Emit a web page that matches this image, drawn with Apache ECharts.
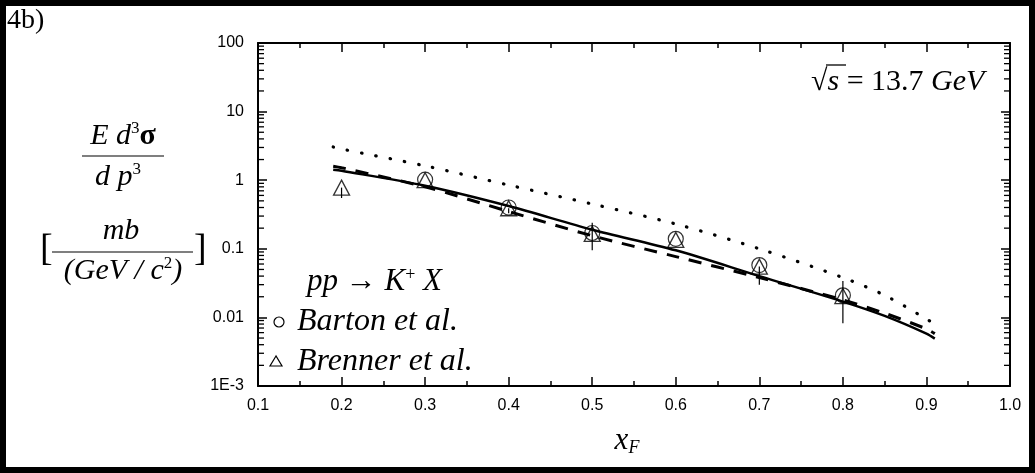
<!DOCTYPE html>
<html>
<head>
<meta charset="utf-8">
<script src="https://cdn.jsdelivr.net/npm/echarts@6/dist/echarts.min.js"></script>
<style>
html,body{margin:0;padding:0;background:#fff;}
#c{width:1035px;height:473px;}
</style>
</head>
<body>
<div id="c"></div>
<script>
// ---- data ----
var xTicks = [0.1,0.2,0.3,0.4,0.5,0.6,0.7,0.8,0.9,1.0];
var yTickLabels = {'-3':'1E-3','-2':'0.01','-1':'0.1','0':'1','1':'10','2':'100'};
var xTheory = [0.19, 0.2, 0.3, 0.4, 0.5, 0.6, 0.7, 0.8, 0.85, 0.9, 0.91];
var solidY  = [1.42, 1.37, 0.83, 0.42, 0.19, 0.095, 0.040, 0.017, 0.0105, 0.0058, 0.0049];
var dashedY = [1.60, 1.52, 0.80, 0.35, 0.155, 0.077, 0.038, 0.018, 0.0115, 0.0068, 0.0058];
var dottedY = [3.05, 2.85, 1.62, 0.85, 0.45, 0.23, 0.10, 0.038, 0.021, 0.0095, 0.0079];
var brennerX = [0.2, 0.3, 0.4, 0.5, 0.6, 0.7, 0.8];
var brennerY = [0.78, 1.0, 0.39, 0.165, 0.135, 0.055, 0.0205];
var bartonX = [0.3, 0.4, 0.5, 0.6, 0.7, 0.8];
var bartonY = [1.02, 0.40, 0.17, 0.14, 0.058, 0.021];
var errX    = [0.2, 0.4, 0.5, 0.7, 0.8];
var errLow  = [0.55, 0.33, 0.095, 0.030, 0.0082];
var errHigh = [0.78, 0.39, 0.24, 0.055, 0.034];
var yMinor = [];
[0.001,0.01,0.1,1,10].forEach(function(d){ for(var k=2;k<=9;k++) yMinor.push(d*k); });

function zip(a,b){ return a.map(function(v,i){ return [v,b[i]]; }); }

var chart = echarts.init(document.getElementById('c'), null, {renderer:'canvas'});
var sans = 'Liberation Sans';
var SF = '"Liberation Serif"';

var option = {
  backgroundColor:'#fff',
  animation:false,
  grid:{left:258, top:43, width:752, height:343},
  xAxis:[{
    type:'value', min:0.1, max:1.0, interval:0.1, position:'bottom',
    axisLine:{lineStyle:{color:'#000', width:2}},
    axisTick:{inside:true, length:9, lineStyle:{color:'#000', width:1.5}},
    minorTick:{show:true, splitNumber:2, length:5, lineStyle:{color:'#000', width:1.5}},
    splitLine:{show:false},
    axisLabel:{color:'#000', fontFamily:sans, fontSize:16, margin:12,
      formatter:function(v){ return v.toFixed(1); }}
  },{
    type:'value', min:0.1, max:1.0, interval:0.1, position:'top',
    axisLine:{show:true, lineStyle:{color:'#000', width:2}},
    axisTick:{show:true, inside:true, length:9, lineStyle:{color:'#000', width:1.5}},
    minorTick:{show:true, splitNumber:2, length:5, lineStyle:{color:'#000', width:1.5}},
    splitLine:{show:false}, axisLabel:{show:false}
  }],
  yAxis:[{
    type:'log', logBase:10, min:0.001, max:100, position:'left',
    axisLine:{show:true, lineStyle:{color:'#000', width:2}},
    axisTick:{show:true, inside:true, length:9, lineStyle:{color:'#000', width:1.5}},
    splitLine:{show:false},
    axisLabel:{color:'#000', fontFamily:sans, fontSize:16, margin:14,
      formatter:function(v){ var e=Math.round(Math.log10(v)); return yTickLabels[String(e)]; }}
  },{
    type:'log', logBase:10, min:0.001, max:100, position:'right',
    axisLine:{show:true, lineStyle:{color:'#000', width:2}},
    axisTick:{show:true, inside:true, length:9, lineStyle:{color:'#000', width:1.5}},
    splitLine:{show:false}, axisLabel:{show:false}
  }],
  series:[
    {type:'custom', name:'minorTicks', xAxisIndex:0, yAxisIndex:0, silent:true, clip:false,
     data:yMinor.map(function(v){return [0.1,v];}),
     renderItem:function(params, api){
       var v = api.value(1);
       var p = api.coord([0.1, v]);
       var q = api.coord([1.0, v]);
       var st = {stroke:'#000', lineWidth:1.3};
       return {type:'group', children:[
         {type:'line', shape:{x1:p[0], y1:p[1], x2:p[0]+6, y2:p[1]}, style:st},
         {type:'line', shape:{x1:q[0], y1:q[1], x2:q[0]-6, y2:q[1]}, style:st}
       ]};
     }},
    {type:'line', name:'dotted', data:zip(xTheory, dottedY), showSymbol:false, smooth:0.3,
     lineStyle:{color:'#000', width:3.2, type:[0.5,14], cap:'round'}},
    {type:'line', name:'dashed', data:zip(xTheory, dashedY), showSymbol:false, smooth:0.3,
     lineStyle:{color:'#000', width:3, type:[13,10]}},
    {type:'line', name:'solid', data:zip(xTheory, solidY), showSymbol:false, smooth:0.3,
     lineStyle:{color:'#000', width:2.5}},
    {type:'custom', name:'errors', silent:true,
     data:errX.map(function(x,i){ return [x, errLow[i], errHigh[i]]; }),
     renderItem:function(params, api){
       var a = api.coord([api.value(0), api.value(1)]);
       var b = api.coord([api.value(0), api.value(2)]);
       return {type:'line', shape:{x1:a[0], y1:a[1], x2:b[0], y2:b[1]}, style:{stroke:'#000', lineWidth:1.2}};
     }},
    {type:'scatter', name:'Barton et al.', data:zip(bartonX, bartonY), symbol:'circle', symbolSize:15,
     itemStyle:{color:'rgba(0,0,0,0)', borderColor:'#000', borderWidth:1.2}},
    {type:'scatter', name:'Brenner et al.', data:zip(brennerX, brennerY), symbol:'triangle', symbolSize:[16,15],
     itemStyle:{color:'rgba(0,0,0,0)', borderColor:'#000', borderWidth:1.3}}
  ],
  graphic:[
    {type:'rect', shape:{x:3, y:3, width:1029, height:467}, style:{fill:'none', stroke:'#000', lineWidth:6}, z:100},
    {type:'text', x:7, y:21, style:{text:'4b)', verticalAlign:'middle', font:'28px '+SF, fill:'#000'}},
    // y title
    {type:'text', x:123, y:136, style:{text:'{i|E d}{s|3}{g|σ}', align:'center', verticalAlign:'middle',
      rich:{i:{font:'italic 30px '+SF, fill:'#000'}, s:{font:'17px '+SF, fill:'#000', padding:[0,0,14,0]}, g:{font:'bold 30px '+SF, fill:'#000'}}}},
    {type:'line', shape:{x1:82, y1:156, x2:164, y2:156}, style:{stroke:'#000', lineWidth:1.2}},
    {type:'text', x:118, y:177, style:{text:'{i|d p}{s|3}', align:'center', verticalAlign:'middle',
      rich:{i:{font:'italic 30px '+SF, fill:'#000'}, s:{font:'17px '+SF, fill:'#000', padding:[0,0,14,0]}}}},
    {type:'text', x:121, y:231, style:{text:'mb', align:'center', verticalAlign:'middle', font:'italic 30px '+SF, fill:'#000'}},
    {type:'line', shape:{x1:52, y1:252, x2:193, y2:252}, style:{stroke:'#000', lineWidth:1.2}},
    {type:'text', x:123, y:271, style:{text:'{i|(GeV / c}{s|2}{i|)}', align:'center', verticalAlign:'middle',
      rich:{i:{font:'italic 30px '+SF, fill:'#000'}, s:{font:'17px '+SF, fill:'#000', padding:[0,0,14,0]}}}},
    {type:'text', x:40, y:250, style:{text:'[', align:'left', verticalAlign:'middle', font:'38px '+SF, fill:'#000'}},
    {type:'text', x:194, y:250, style:{text:']', align:'left', verticalAlign:'middle', font:'38px '+SF, fill:'#000'}},
    // sqrt s
    {type:'text', x:811, y:82, style:{text:'{r|√}{i|s}{n| = 13.7 }{i|GeV}', align:'left', verticalAlign:'middle',
      rich:{r:{font:'30px '+SF, fill:'#000'}, i:{font:'italic 30px '+SF, fill:'#000'}, n:{font:'30px '+SF, fill:'#000'}}}},
    {type:'line', shape:{x1:826, y1:65, x2:846, y2:65}, style:{stroke:'#000', lineWidth:1.3}},
    // x title
    {type:'text', x:627, y:441, style:{text:'{i|x}{s|F}', align:'center', verticalAlign:'middle',
      rich:{i:{font:'italic 31px '+SF, fill:'#000'}, s:{font:'italic 18px '+SF, fill:'#000', padding:[14,0,0,0]}}}},
    // legend
    {type:'text', x:307, y:282, style:{text:'{i|pp → K}{s|+}{i| X}', verticalAlign:'middle',
      rich:{i:{font:'italic 31px '+SF, fill:'#000'}, s:{font:'18px '+SF, fill:'#000', padding:[0,0,14,0]}}}},
    {type:'circle', shape:{cx:279, cy:322, r:5}, style:{fill:'none', stroke:'#000', lineWidth:1.2}},
    {type:'text', x:297, y:322, style:{text:'Barton et al.', verticalAlign:'middle', font:'italic 32px '+SF, fill:'#000'}},
    {type:'polygon', shape:{points:[[276,356],[270,366],[282,366]]}, style:{fill:'none', stroke:'#000', lineWidth:1.2}},
    {type:'text', x:297, y:362, style:{text:'Brenner et al.', verticalAlign:'middle', font:'italic 32px '+SF, fill:'#000'}}
  ]
};
chart.setOption(option);
</script>
</body>
</html>
